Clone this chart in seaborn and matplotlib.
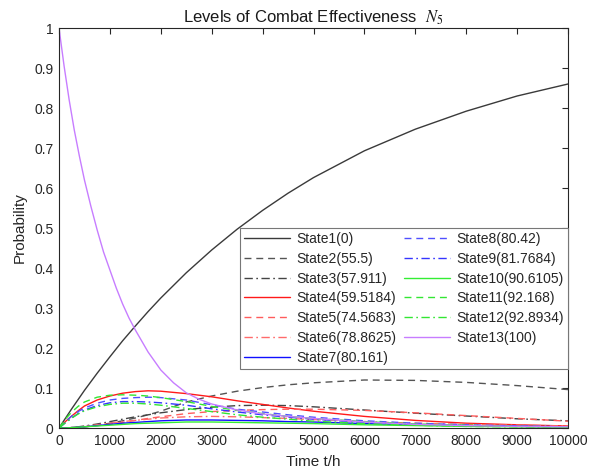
import numpy as np
import pandas as pd
import matplotlib
matplotlib.use("Agg")
import matplotlib.pyplot as plt
import seaborn as sns

# ---------------- data ----------------
time_h = [0, 125, 250, 375, 500, 750, 1000, 1250, 1500, 1750, 2000, 2500, 3000, 3500,
          4000, 4500, 5000, 6000, 7000, 8000, 9000, 10000]

state1 = [0, 0.024, 0.048, 0.071, 0.094, 0.137, 0.178, 0.218, 0.255, 0.291, 0.325, 0.388,
          0.445, 0.497, 0.544, 0.587, 0.626, 0.693, 0.747, 0.792, 0.830, 0.860]
state2 = [0, 0.000, 0.001, 0.002, 0.003, 0.007, 0.012, 0.018, 0.025, 0.033, 0.042, 0.065,
          0.080, 0.092, 0.101, 0.108, 0.113, 0.120, 0.119, 0.114, 0.106, 0.096]
state3 = [0, 0.000, 0.001, 0.003, 0.005, 0.010, 0.016, 0.022, 0.028, 0.033, 0.038, 0.046,
          0.052, 0.056, 0.057, 0.056, 0.053, 0.045, 0.037, 0.030, 0.023, 0.018]
state4 = [0, 0.016, 0.030, 0.043, 0.055, 0.070, 0.080, 0.087, 0.091, 0.093, 0.092, 0.086,
          0.078, 0.068, 0.059, 0.050, 0.042, 0.029, 0.019, 0.012, 0.008, 0.005]
state5 = [0, 0.000, 0.001, 0.002, 0.003, 0.006, 0.010, 0.014, 0.019, 0.024, 0.028, 0.036,
          0.041, 0.044, 0.046, 0.047, 0.047, 0.044, 0.038, 0.031, 0.024, 0.017]
state6 = [0, 0.000, 0.001, 0.002, 0.004, 0.008, 0.012, 0.016, 0.019, 0.022, 0.025, 0.028,
          0.029, 0.028, 0.026, 0.024, 0.021, 0.016, 0.012, 0.009, 0.007, 0.005]
state7 = [0, 0.000, 0.001, 0.002, 0.003, 0.006, 0.009, 0.012, 0.014, 0.016, 0.018, 0.020,
          0.020, 0.019, 0.018, 0.016, 0.015, 0.011, 0.008, 0.006, 0.004, 0.003]
state8 = [0, 0.016, 0.030, 0.041, 0.050, 0.062, 0.070, 0.074, 0.076, 0.077, 0.076, 0.070,
          0.058, 0.047, 0.040, 0.033, 0.027, 0.018, 0.012, 0.008, 0.005, 0.003]
state9 = [0, 0.013, 0.025, 0.036, 0.045, 0.056, 0.063, 0.066, 0.066, 0.065, 0.063, 0.057,
          0.048, 0.040, 0.033, 0.027, 0.022, 0.014, 0.009, 0.006, 0.004, 0.002]
state10 = [0, 0.000, 0.001, 0.002, 0.003, 0.005, 0.007, 0.009, 0.011, 0.012, 0.013, 0.015,
           0.015, 0.014, 0.013, 0.012, 0.011, 0.008, 0.006, 0.004, 0.003, 0.002]
state11 = [0, 0.022, 0.040, 0.054, 0.065, 0.077, 0.082, 0.083, 0.082, 0.080, 0.076, 0.066,
           0.054, 0.044, 0.036, 0.029, 0.024, 0.016, 0.010, 0.007, 0.004, 0.003]
state12 = [0, 0.013, 0.025, 0.035, 0.043, 0.053, 0.059, 0.062, 0.062, 0.060, 0.057, 0.049,
           0.041, 0.033, 0.027, 0.022, 0.017, 0.011, 0.007, 0.004, 0.003, 0.002]

time_h13 = [0, 100, 200, 300, 400, 500, 625, 750, 875, 1000, 1125, 1250, 1375, 1500,
            1750, 2000, 2250, 2500, 2750, 3000, 3500, 4000, 4500, 5000, 6000, 7000,
            8000, 9000, 10000]
state13 = [1.0, 0.905, 0.82, 0.745, 0.68, 0.62, 0.555, 0.495, 0.44, 0.395, 0.35, 0.31,
           0.275, 0.245, 0.19, 0.145, 0.113, 0.088, 0.072, 0.060, 0.045, 0.035, 0.029,
           0.024, 0.015, 0.009, 0.006, 0.004, 0.003]

labels = ["State1(0)", "State2(55.5)", "State3(57.911)", "State4(59.5184)",
          "State5(74.5683)", "State6(78.8625)", "State7(80.161)", "State8(80.42)",
          "State9(81.7684)", "State10(90.6105)", "State11(92.168)",
          "State12(92.8934)", "State13(100)"]
series = [state1, state2, state3, state4, state5, state6, state7, state8,
          state9, state10, state11, state12, state13]
times = [time_h] * 12 + [time_h13]

# ---------------- styles ----------------
DASH = (5, 3.5)
DASHDOT = (6, 2.5, 1.2, 2.5)
styles = [
    ("#3a3a3a", None), ("#555555", DASH), ("#444444", DASHDOT),
    ("#ff1a1a", None), ("#ff5c5c", DASH), ("#ff6b6b", DASHDOT),
    ("#1010ff", None), ("#5050ff", DASH), ("#3535ff", DASHDOT),
    ("#33ee33", None), ("#33e633", DASH), ("#33e633", DASHDOT),
    ("#c77dff", None),
]

sns.set_theme(style="white")
plt.rcParams["font.family"] = ["Liberation Sans", "DejaVu Sans"]
plt.rcParams["mathtext.fontset"] = "stix"

fig = plt.figure(figsize=(5.91, 4.75), dpi=100)
ax = fig.add_axes([59 / 591, 47 / 475, (568 - 59) / 591, 400 / 475])

for tt, vals, lab, (col, dash) in zip(times, series, labels, styles):
    df = pd.DataFrame({"t": tt, "p": vals})
    sns.lineplot(data=df, x="t", y="p", ax=ax, color=col, linewidth=1.0, label=lab)
    if dash is not None:
        ax.lines[-1].set_dashes(dash)

ax.set_xlim(0, 10000)
ax.set_ylim(0, 1)
ax.set_xticks(np.arange(0, 10001, 1000))
ax.set_yticks(np.arange(0, 1.01, 0.1))
ax.set_yticklabels(["0", "0.1", "0.2", "0.3", "0.4", "0.5", "0.6", "0.7", "0.8", "0.9", "1"])
ax.tick_params(direction="in", length=4, width=0.8, top=True, right=True,
               labelsize=10, colors="#262626", pad=4)
for s in ax.spines.values():
    s.set_color("#262626")
    s.set_linewidth(0.8)

ax.set_xlabel("Time t/h", fontsize=11, color="#262626", labelpad=5)
ax.set_ylabel("Probability", fontsize=11, color="#262626", labelpad=5)
ax.set_title("Levels of Combat Effectiveness  $N_5$", fontsize=12, color="#1a1a1a", pad=4)

leg = ax.legend(loc="lower right", bbox_to_anchor=(1.0, 0.1475), ncol=2,
                fontsize=10, frameon=True, fancybox=False, framealpha=1,
                edgecolor="#777777", borderaxespad=0, borderpad=0.3,
                labelspacing=0.42, handlelength=3.3, handletextpad=0.45,
                columnspacing=0.6)
leg.get_frame().set_linewidth(0.8)
for txt in leg.get_texts():
    txt.set_color("#262626")

fig.savefig("out.png", dpi=100)
